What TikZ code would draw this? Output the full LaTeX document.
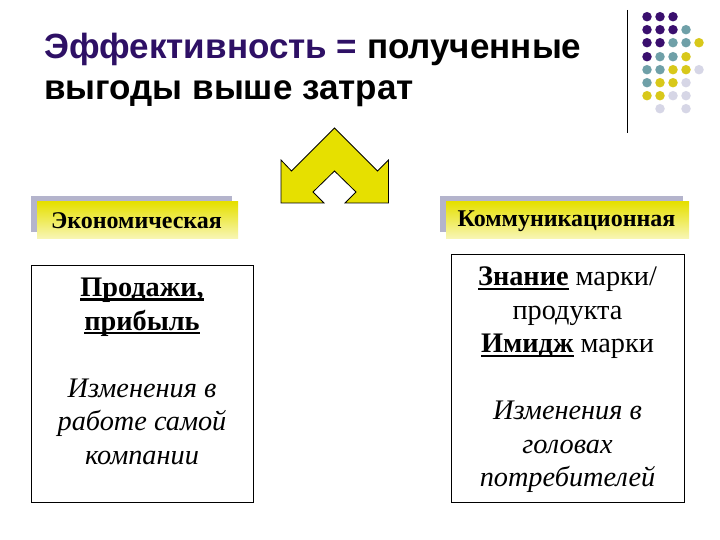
\documentclass[tikz,border=0pt]{standalone}
\usepackage{fontspec}
\setmainfont{Liberation Serif}
\newfontfamily\titlefont{Liberation Sans}
\definecolor{dotP}{HTML}{3A0F6E}
\definecolor{dotT}{HTML}{6FA0A8}
\definecolor{dotY}{HTML}{D8C81A}
\definecolor{dotL}{HTML}{D6D6E6}
\definecolor{bandG}{HTML}{B4B4CC}
\definecolor{bandY}{HTML}{E6E000}
\definecolor{titleP}{HTML}{2E1065}
\newcommand{\ubar}[1]{\setbox0\hbox{#1}\leavevmode\rlap{\raisebox{-3.8pt}{\rule{\wd0}{2.2pt}}}\box0}
\tikzset{
  x=1pt,y=-1pt,
  pp/.style={circle,fill=dotP,inner sep=0pt,minimum size=9.5pt},
  tt/.style={circle,fill=dotT,inner sep=0pt,minimum size=9.5pt},
  yy/.style={circle,fill=dotY,inner sep=0pt,minimum size=9.5pt},
  ll/.style={circle,fill=dotL,inner sep=0pt,minimum size=9.5pt},
  titletext/.style={font=\titlefont\bfseries\fontsize{35}{41}\selectfont,align=left,anchor=north west,inner sep=0pt},
  headtext/.style={font=\bfseries\fontsize{24}{27}\selectfont,inner sep=0pt},
  bodytext/.style={font=\fontsize{28.3}{33.5}\selectfont,align=center,inner sep=0pt,anchor=north},
  infobox/.style={draw=black,line width=1pt,fill=white,inner sep=0pt,anchor=north west},
}
\begin{document}
\begin{tikzpicture}
\useasboundingbox (0,0) rectangle (720,540);
\fill[white] (0,0) rectangle (720,540);
\draw[line width=1pt] (627,10) -- (627,133);
\foreach \s/\x/\y in {pp/647/16,pp/660/16,pp/673/16,
 pp/647/29,pp/660/29,pp/673/29,tt/686/29,
 pp/647/42,pp/660/42,tt/673/42,tt/686/42,yy/699/42,
 pp/647/56,tt/660/56,tt/673/56,yy/686/56,
 tt/647/69,tt/660/69,yy/673/69,yy/686/69,ll/699/69,
 tt/647/82,yy/660/82,yy/673/82,ll/686/82,
 yy/647/95,yy/660/95,ll/673/95,ll/686/95,
 ll/660/108,ll/686/108}
 \node[\s] (d\x\y) at (\x,\y+0.7) {};
\node[titletext] (title) at (44,33) {\textcolor{titleP}{Эффективность =} полученные\\выгоды выше затрат};
\draw[fill=bandY,draw=black,line width=0.8pt,line join=miter]
 (334.5,128) -- (377.5,171) -- (388.5,160) -- (388.5,203) -- (345,203) -- (356,192) -- (334.5,171) -- (313,192) -- (324,203) -- (281,203) -- (281,160) -- (291.5,171) -- cycle;
\fill[bandG] (31,196) rectangle (232,232);
\shade[top color=bandY,bottom color=bandY!30!white] (37,202) rectangle (238,238);
\node[headtext] (h1) at (136.5,220.5) {Экономическая};
\fill[bandG] (440,196) rectangle (683,232);
\shade[top color=bandY,bottom color=bandY!30!white] (446,202) rectangle (689,238);
\node[headtext] (h2) at (566.5,221.5) {Коммуникационная};
\node[infobox,minimum width=221.5pt,minimum height=237.5pt] (b1) at (31,264.5) {};
\node[infobox,minimum width=233pt,minimum height=248.5pt] (b2) at (451,253.5) {};
\node[bodytext] (t1) at (142,278) {\textbf{\ubar{Продажи,}}\\\textbf{\ubar{прибыль}}\\[33.5pt]\textit{Изменения в}\\\textit{работе самой}\\\textit{компании}};
\node[bodytext] (t2) at (567.5,267) {\textbf{\ubar{Знание}} марки/\\продукта\\\textbf{\ubar{Имидж}} марки\\[33.5pt]\textit{Изменения в}\\\textit{головах}\\\textit{потребителей}};
\end{tikzpicture}
\end{document}
